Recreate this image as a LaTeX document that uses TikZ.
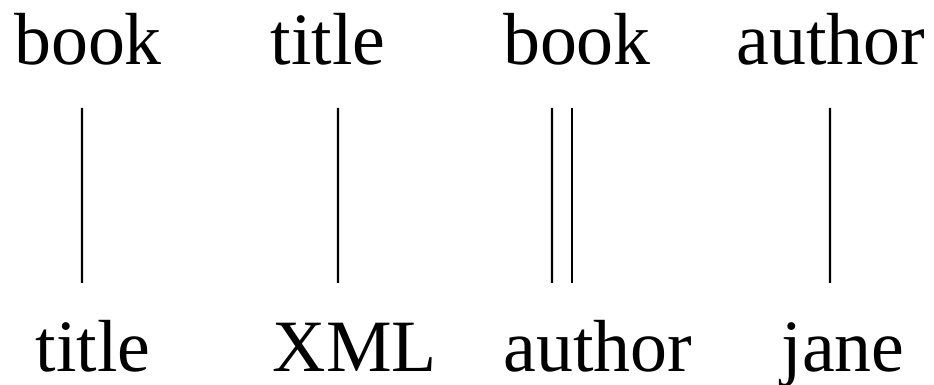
\documentclass[tikz,border=0pt]{standalone}
\usepackage{fontspec}
\setmainfont{Liberation Serif}
\begin{document}
\begin{tikzpicture}[every node/.style={anchor=base, inner sep=0pt, font=\fontsize{21}{25}\selectfont}, edge/.style={line width=0.6pt}]
		\useasboundingbox (0,0) rectangle (9.34,-3.85);
		\node (bookA) at (0.88,-0.65) {book};
		\node (titleA) at (3.28,-0.65) {title};
		\node (bookB) at (5.77,-0.65) {book};
		\node (authorA) at (8.31,-0.65) {author};
		\node (titleB) at (0.93,-3.72) {title};
		\node (xml) at (3.55,-3.72) {XML};
		\node (authorB) at (5.98,-3.72) {author};
		\node (jane) at (8.43,-3.72) {jane};

		\draw[edge] ([shift={(-0.06,-0.43)}]bookA.base) -- ([shift={(-0.11,0.89)}]titleB.base);
		\draw[edge] ([shift={(0.10,-0.43)}]titleA.base) -- ([shift={(-0.17,0.89)}]xml.base);
		\draw[edge] ([shift={(-0.25,-0.43)}]bookB.base) -- ([shift={(-0.46,0.89)}]authorB.base);
		\draw[edge] ([shift={(-0.05,-0.43)}]bookB.base) -- ([shift={(-0.26,0.89)}]authorB.base);
		\draw[edge] ([shift={(-0.01,-0.43)}]authorA.base) -- ([shift={(-0.13,0.89)}]jane.base);
	\end{tikzpicture}
\end{document}
